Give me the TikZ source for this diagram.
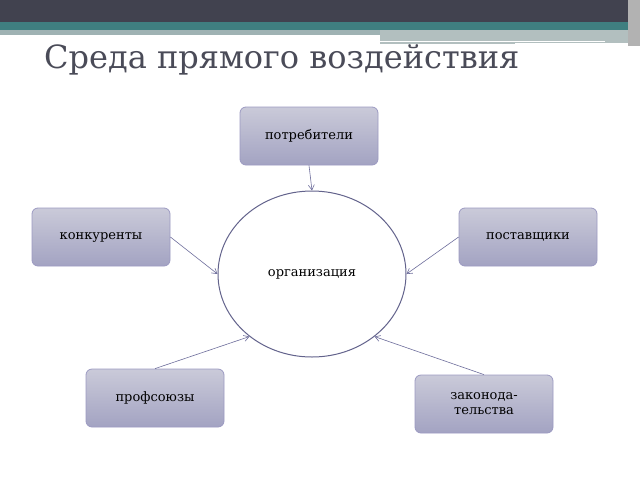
\documentclass[tikz,border=0pt]{standalone}
\usepackage{fontspec}
\setmainfont{DejaVu Serif}
\usetikzlibrary{arrows.meta,shapes.geometric}
\definecolor{dark}{HTML}{41424F}
\definecolor{teal}{HTML}{3F7F80}
\definecolor{boxtop}{HTML}{CACAD9}
\definecolor{boxbot}{HTML}{A3A3C2}
\definecolor{boxline}{HTML}{9C9AC2}
\definecolor{arr}{HTML}{6E6E9C}
\definecolor{titlec}{HTML}{4A4B58}
\begin{document}
\begin{tikzpicture}[x=1pt,y=-1pt,
  box/.style={draw=boxline,line width=0.8pt,rounded corners=6pt,top color=boxtop,bottom color=boxbot,minimum width=138pt,minimum height=58pt,align=center,font=\fontsize{13}{15}\selectfont,inner sep=2pt},
  con/.style={draw=arr,line width=0.6pt,-{Straight Barb[length=5pt,width=6pt]}}]
\useasboundingbox (0,0) rectangle (640,480);
\fill[white] (0,0) rectangle (640,480);
\fill[dark] (0,0) rectangle (640,22);
\fill[teal] (0,22) rectangle (640,30);
\fill[teal!50!gray!60] (0,30) rectangle (380,35);
\fill[teal!40!gray!50] (380,30) rectangle (630,44);
\draw[white,line width=1pt] (380,41) -- (605,41);
\draw[white,line width=1pt] (515,43) -- (628,43);
\fill[gray!60] (628,0) rectangle (640,46);
\node[font=\fontsize{32}{36}\selectfont,text=titlec,anchor=base west,inner sep=0] (title) at (44,68) {Среда прямого воздействия};
\node[box] (p) at (309,136) {потребители};
\node[box] (k) at (101,237) {конкуренты};
\node[box] (s) at (528,237) {поставщики};
\node[box] (u) at (155,398) {профсоюзы};
\node[box] (z) at (484,404) {законода-\\тельства};
\node[draw=arr!90!black,line width=1pt,ellipse,minimum width=188pt,minimum height=166pt,font=\fontsize{13}{15}\selectfont] (o) at (312,274) {организация};
\draw[con] (p.south) -- (o.north);
\draw[con] (k.east) -- (o.west);
\draw[con] (s.west) -- (o.east);
\draw[con] (u.north) -- (o.225);
\draw[con] (z.north) -- (o.315);
\end{tikzpicture}
\end{document}
